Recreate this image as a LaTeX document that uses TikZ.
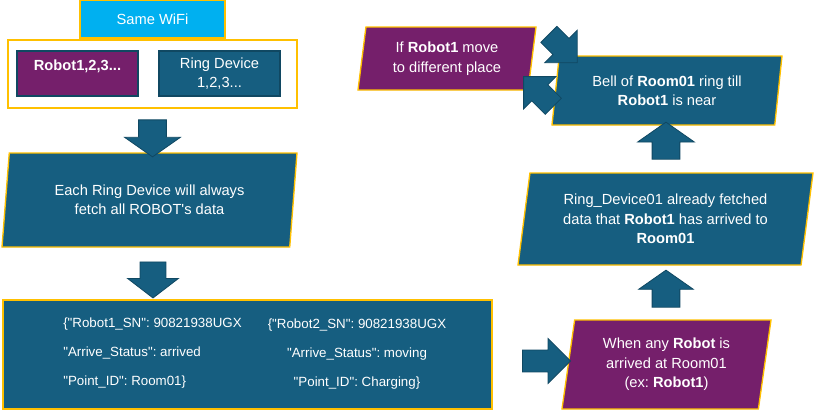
\documentclass[tikz,border=0pt]{standalone}
\usepackage{fontspec}
\setmainfont{Liberation Sans}[Ligatures=TeXOff]
\usetikzlibrary{shapes.geometric,shapes.arrows}
\definecolor{flowteal}{RGB}{22,94,128}
\definecolor{flowpurple}{RGB}{117,31,107}
\definecolor{flowgold}{RGB}{255,192,0}
\definecolor{flowcyan}{RGB}{0,176,240}
\definecolor{edgeteal}{RGB}{16,72,98}
\tikzstyle{devbox} = [rectangle, draw=edgeteal, line width=1pt, text=white, align=center, inner sep=0pt, minimum width=90.75pt, minimum height=33.75pt]
\tikzstyle{iobox} = [trapezium, trapezium left angle=76.5, trapezium right angle=103.5, trapezium stretches body, draw=flowgold, line width=1pt, text=white, align=center, inner sep=0pt]
\tikzstyle{blockarrow} = [single arrow, fill=flowteal, draw=edgeteal, line width=0.6pt, inner xsep=0pt, single arrow head indent=0pt]
\tikzstyle{jsontext} = [text=white, align=left, inner sep=0pt, font=\fontsize{10}{21.75}\selectfont]
\newcommand{\rb}[1]{\textbf{#1}}
\frenchspacing

\begin{document}
\begin{tikzpicture}[x=0.75pt, y=-0.75pt, font=\fontsize{11}{14.6}\selectfont]
\useasboundingbox (0,0) rectangle (818,412);
% left column
\node [rectangle, fill=flowcyan, draw=flowgold, line width=1pt, text=white, minimum width=108.75pt, minimum height=28.5pt] (wifi) at (152.5,19) {Same WiFi};
\node [rectangle, fill=white, draw=flowgold, line width=1.5pt, minimum width=216.75pt, minimum height=51pt] (devices) at (152.5,74) {};
\node [devbox, fill=flowpurple, text depth=12pt] (robots) at (77.5,73.5) {\rb{Robot1,2,3...}};
\node [devbox, fill=flowteal] (rings) at (219.5,73.5) {Ring Device\\1,2,3...};
\node [iobox, fill=flowteal, minimum width=221.25pt, minimum height=70.5pt] (fetchall) at (149.5,200) {Each Ring Device will always\\fetch all ROBOT's data};
\node [iobox, fill=flowteal, minimum width=366.75pt, minimum height=81.75pt] (jsonbox) at (247.5,354.5) {};
\node [jsontext, anchor=west] (jsonleft) at (63,353) {\{"Robot1\_SN": 90821938UGX\\"Arrive\_Status": arrived\\"Point\_ID": Room01\}};
\node [jsontext, align=center] (jsonright) at (357,354) {\{"Robot2\_SN": 90821938UGX\\"Arrive\_Status": moving\\"Point\_ID": Charging\}};
% right column
\node [iobox, fill=flowpurple, minimum width=156.75pt, minimum height=66.75pt] (arrived) at (666.5,364.5) {When any \rb{Robot} is\\arrived at Room01\\(ex: \rb{Robot1})};
\node [iobox, fill=flowteal, minimum width=221.25pt, minimum height=69pt] (fetched) at (665.5,219) {Ring\_Device01 already fetched\\data that \rb{Robot1} has arrived to\\\rb{Room01}};
\node [iobox, fill=flowteal, minimum width=172.5pt, minimum height=51.75pt] (bell) at (667,90.5) {Bell of \rb{Room01} ring till\\\rb{Robot1} is near};
\node [iobox, fill=flowpurple, minimum width=133.5pt, minimum height=47.25pt] (moved) at (447,58.5) {If \rb{Robot1} move\\to different place};
% block arrows
\node [blockarrow, rotate=-90, minimum height=27.75pt, inner ysep=10.1pt, single arrow head extend=10.5pt, single arrow tip angle=110] (downone) at (152.5,133.5) {};
\node [blockarrow, rotate=-90, minimum height=27pt, inner ysep=9.4pt, single arrow head extend=9.4pt, single arrow tip angle=105] (downtwo) at (153,275) {};
\node [blockarrow, minimum height=36pt, inner ysep=7.9pt, single arrow head extend=8.6pt, single arrow tip angle=90] (toarrived) at (541,361) {};
\node [blockarrow, rotate=90, minimum height=27.75pt, inner ysep=10.1pt, single arrow head extend=10.1pt, single arrow tip angle=110] (upone) at (666,293.5) {};
\node [blockarrow, rotate=90, minimum height=27.75pt, inner ysep=10.1pt, single arrow head extend=10.9pt, single arrow tip angle=110] (uptwo) at (666,145.5) {};
\node [blockarrow, rotate=-45, minimum height=30pt, inner ysep=8.25pt, single arrow head extend=8.6pt, single arrow tip angle=90] (tobell) at (559,44.5) {};
\node [blockarrow, rotate=135, minimum height=31.5pt, inner ysep=8.25pt, single arrow head extend=8.6pt, single arrow tip angle=90] (tomoved) at (542.5,95.5) {};
\end{tikzpicture}
\end{document}
